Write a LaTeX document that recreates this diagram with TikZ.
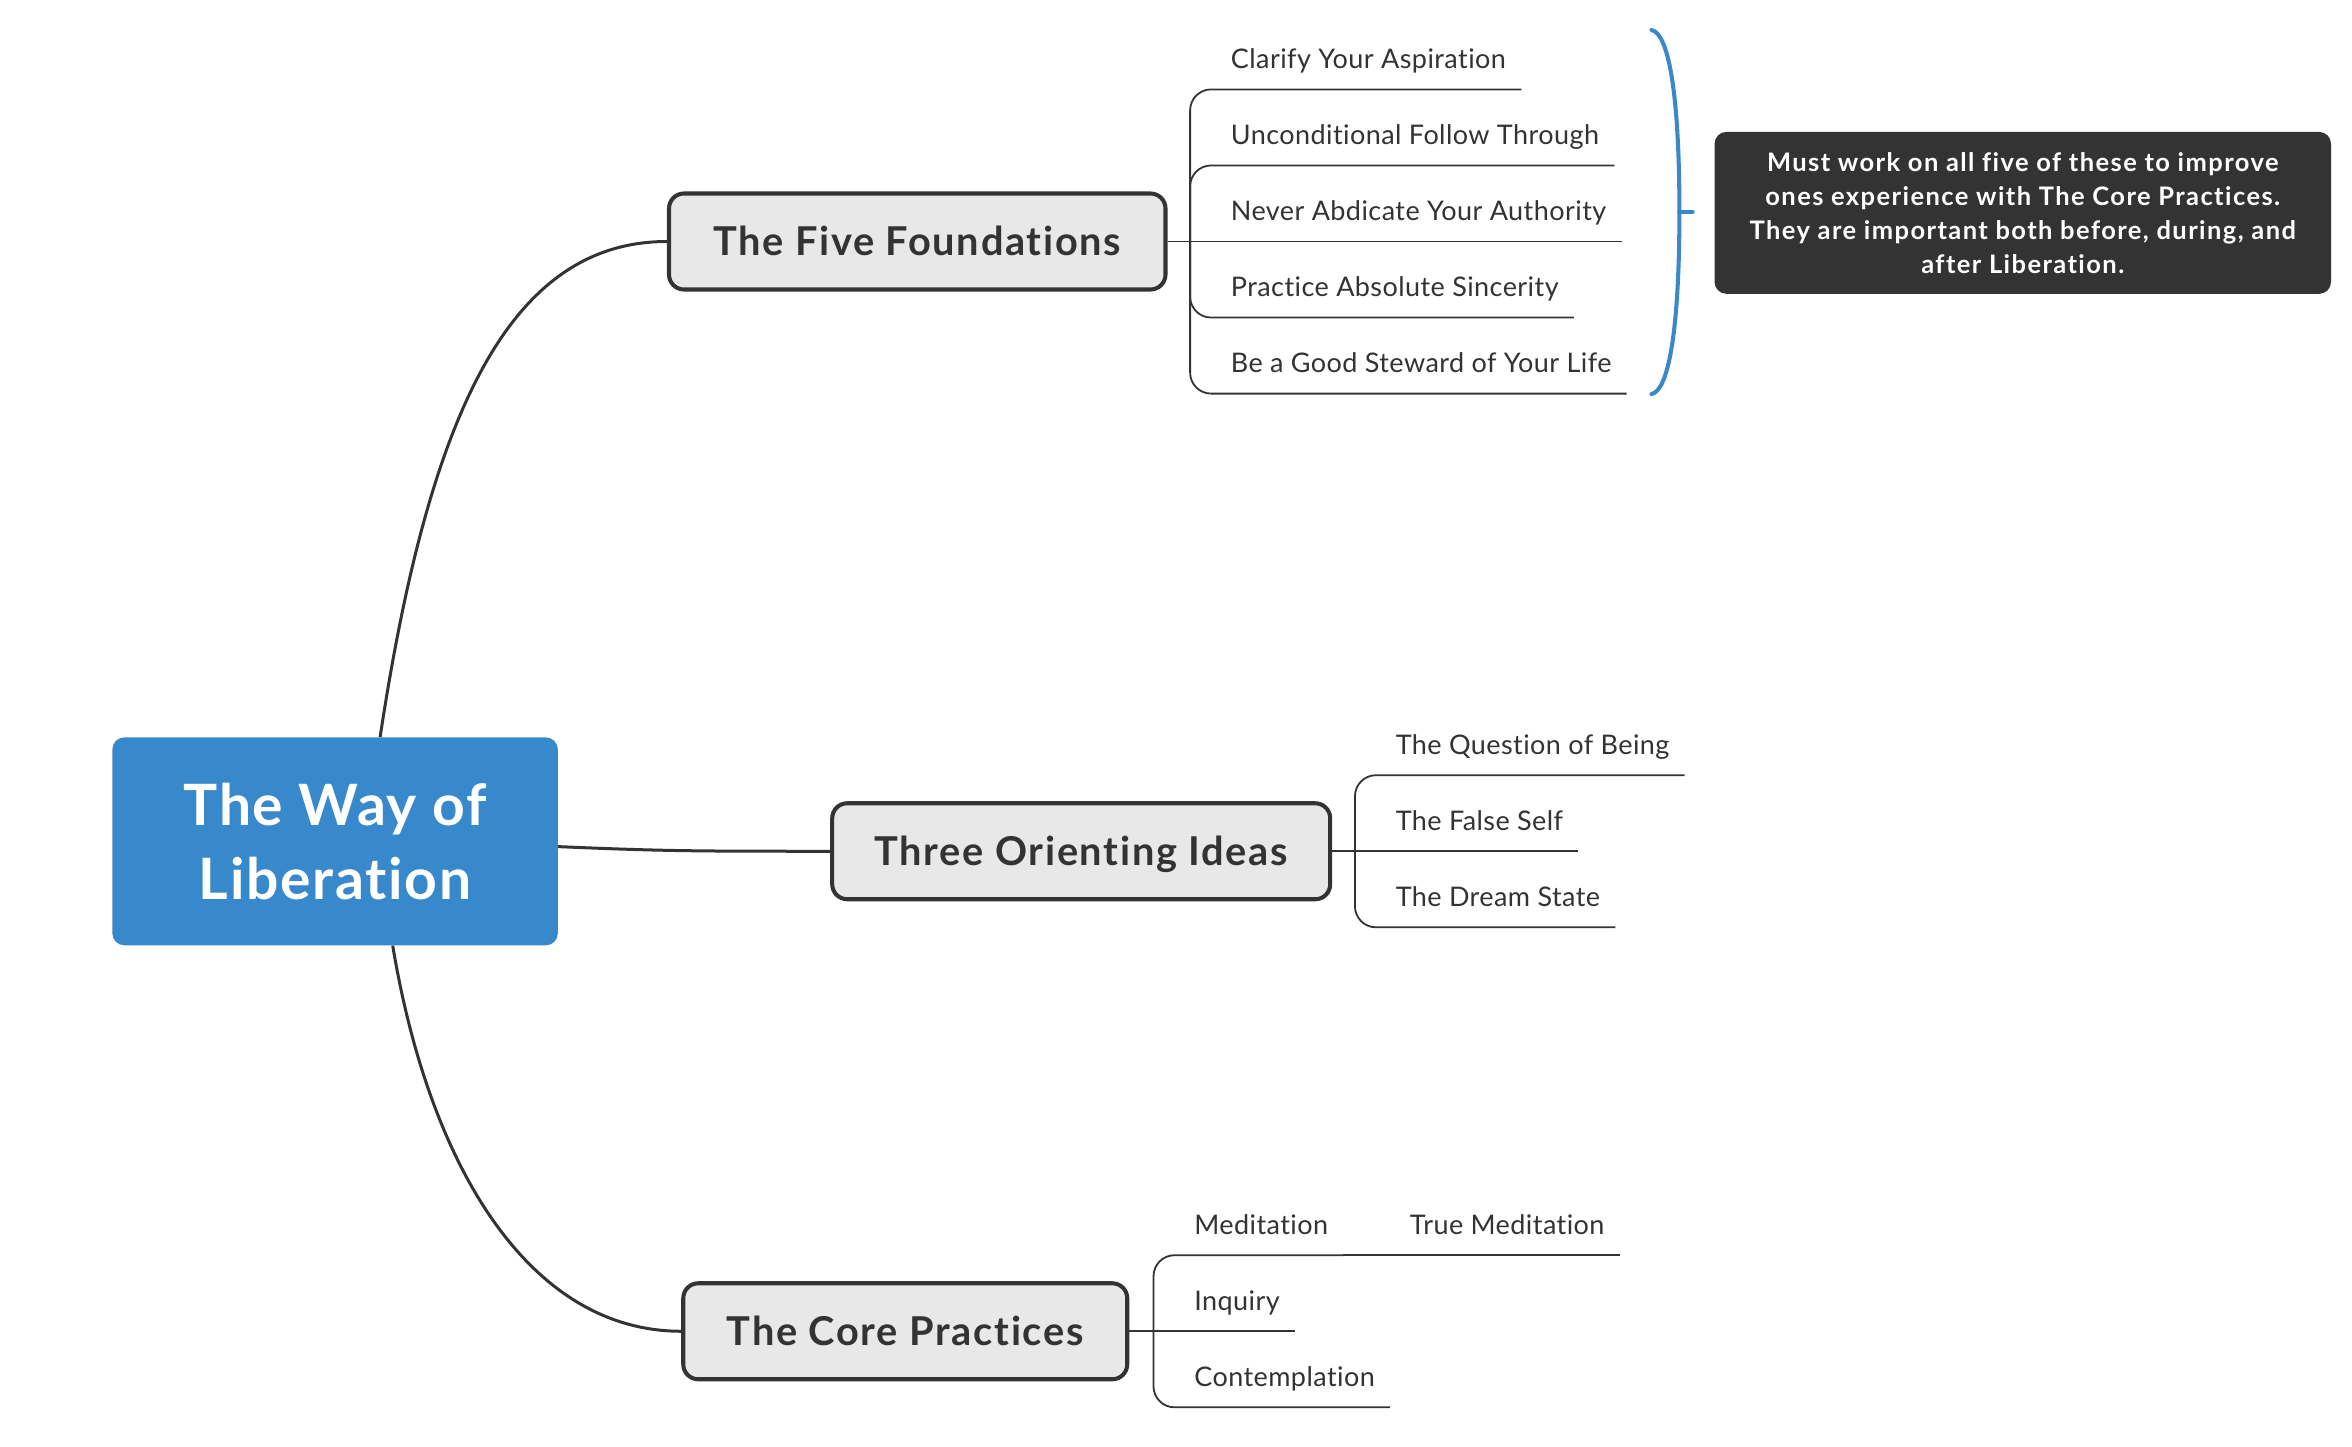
\documentclass[tikz,border=0pt]{standalone}
\usepackage{fontspec}
\setmainfont{Lato}[Ligatures=NoCommon]
\usepackage{tikz}
\definecolor{rootclr}{RGB}{56,137,203}
\definecolor{inkclr}{RGB}{51,51,51}
\definecolor{topicfill}{RGB}{232,232,232}
\definecolor{sumclr}{RGB}{58,135,202}
\tikzset{
  root/.style={rectangle,rounded corners=8pt,fill=rootclr,text=white,
               minimum width=297pt,minimum height=138.6pt,align=center,
               font=\fontsize{38}{49}\selectfont\bfseries\addfontfeatures{LetterSpace=3}},
  topic/.style={rectangle,rounded corners=10pt,draw=inkclr,line width=2.7pt,
                fill=topicfill,text=inkclr,minimum height=64pt,
                text height=19pt,text depth=0pt,
                font=\fontsize{26.5}{32}\selectfont\bfseries\addfontfeatures{LetterSpace=4.3}},
  leaf/.style={anchor=south west,inner xsep=10pt,inner ysep=10pt,
               text depth=3.6pt,text=inkclr,
               font=\fontsize{18}{22}\selectfont\addfontfeatures{LetterSpace=1.6}},
  note/.style={rectangle,rounded corners=8pt,fill=inkclr,text=white,
               minimum width=411pt,minimum height=108pt,align=center,
               font=\fontsize{17}{22.6}\selectfont\bfseries\addfontfeatures{LetterSpace=5.6}},
  link/.style={draw=inkclr,line width=2pt},
  branch/.style={draw=inkclr,line width=1.2pt,rounded corners=14pt},
  sumbrace/.style={draw=sumclr,line width=2.7pt,line cap=round},
}
\begin{document}
\begin{tikzpicture}[x=1pt,y=-1pt]
\useasboundingbox (0,0) rectangle (1568,964);

% Central topic and main topics
\node[root] (root) at (223.4,560.9) {The Way of\\Liberation};
\node[topic,minimum width=331pt] (fivef) at (611.5,161)   {The Five Foundations};
\node[topic,minimum width=332pt] (toi)   at (720.8,567.5) {Three Orienting Ideas};
\node[topic,minimum width=296pt] (core)  at (603.5,887.5) {The Core Practices};

% Five Foundations subtopics
\coordinate (fivef-j) at (793.4,161);
\node[leaf] (ff1) at (810.4,59.6)  {Clarify Your Aspiration};
\node[leaf] (ff2) at (810.4,110.3) {Unconditional Follow Through};
\node[leaf] (ff3) at (810.4,161)   {Never Abdicate Your Authority};
\node[leaf] (ff4) at (810.4,211.7) {Practice Absolute Sincerity};
\node[leaf] (ff5) at (810.4,262.4) {Be a Good Steward of Your Life};

% Three Orienting Ideas subtopics
\coordinate (toi-j) at (903.3,567.5);
\node[leaf] (oi1) at (920.3,516.8) {The Question of Being};
\node[leaf] (oi2) at (920.3,567.5) {The False Self};
\node[leaf] (oi3) at (920.3,618.2) {The Dream State};

% Core Practices subtopics
\coordinate (core-j) at (769,887.5);
\node[leaf] (cp1) at (786,836.8) {Meditation};
\node[leaf] (cp2) at (786,887.5) {Inquiry};
\node[leaf] (cp3) at (786,938.2) {Contemplation};
\node[leaf] (cp1a) at (929.7,836.8) {True Meditation};

% Summary note
\node[note] (sum) at (1348.5,141.9)
  {Must work on all five of these to improve\\
   ones experience with The Core Practices.\\
   They are important both before, during, and\\
   after Liberation.};
\coordinate (brT)   at (1101,20);
\coordinate (brM)   at (1119.6,141.2);
\coordinate (brB)   at (1101,262.7);
\coordinate (brTip) at (1128.4,141.2);

% Main links
\draw[link] ([xshift=30pt]root.north) .. controls +(32,-211) and +(-107,0) .. (fivef.west);
\draw[link] ([yshift=-3.5pt]root.east) .. controls +(70,3) and +(-90,0) .. (toi.west);
\draw[link] ([xshift=38.4pt]root.south) .. controls +(25,150) and +(-100,0) .. (core.west);

% Branches
\draw[branch] (fivef.east) -- (fivef-j);
\draw[branch] (fivef-j) |- (ff1.south east);
\draw[branch] (fivef-j) |- (ff2.south east);
\draw[branch] (fivef-j) -- (ff3.south east);
\draw[branch] (fivef-j) |- (ff4.south east);
\draw[branch] (fivef-j) |- (ff5.south east);

\draw[branch] (toi.east) -- (toi-j);
\draw[branch] (toi-j) |- (oi1.south east);
\draw[branch] (toi-j) -- (oi2.south east);
\draw[branch] (toi-j) |- (oi3.south east);

\draw[branch] (core.east) -- (core-j);
\draw[branch] (core-j) |- (cp1.south east);
\draw[branch] (core-j) -- (cp2.south east);
\draw[branch] (core-j) |- (cp3.south east);
\draw[branch] (cp1.south east) -- (cp1a.south east);

% Summary brace
\draw[sumbrace] (brT) .. controls +(11,2) and +(0,-81) .. (brM)
                      .. controls +(0,81) and +(11,-2) .. (brB);
\draw[sumbrace] (brM) -- (brTip);

\end{tikzpicture}
\end{document}
